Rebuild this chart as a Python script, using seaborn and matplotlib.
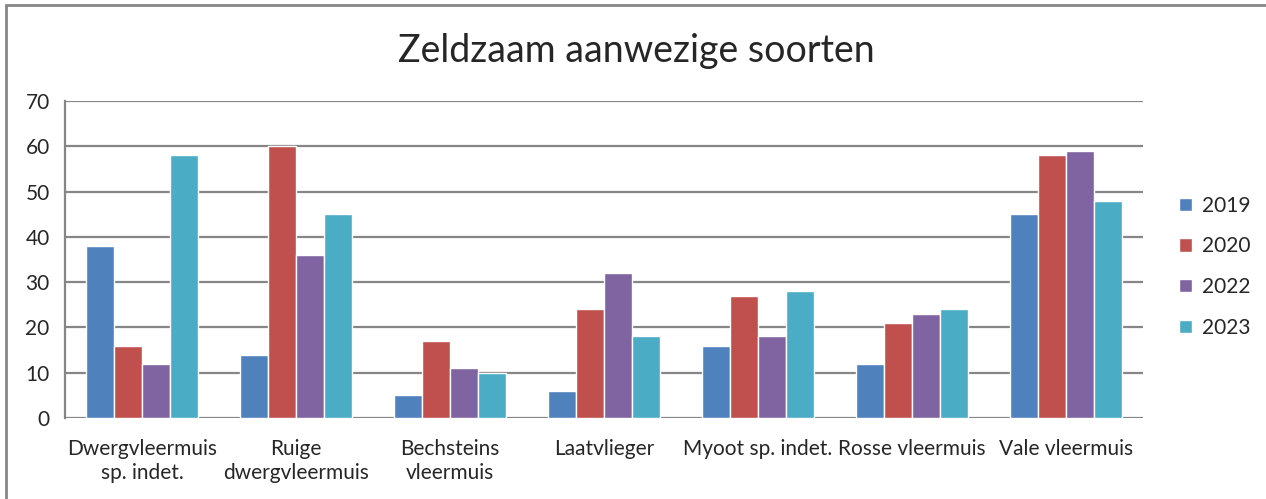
import pandas as pd
import matplotlib.pyplot as plt
import seaborn as sns
from matplotlib.patches import Rectangle

# Data
soorten = ["Dwergvleermuis\nsp. indet.", "Ruige\ndwergvleermuis", "Bechsteins\nvleermuis",
           "Laatvlieger", "Myoot sp. indet.", "Rosse vleermuis", "Vale vleermuis"]
jaren = ["2019", "2020", "2022", "2023"]
v2019 = [38, 14, 5, 6, 16, 12, 45]
v2020 = [16, 60, 17, 24, 27, 21, 58]
v2022 = [12, 36, 11, 32, 18, 23, 59]
v2023 = [58, 45, 10, 18, 28, 24, 48]
kleuren = ["#4F81BD", "#C0504D", "#8064A2", "#4BACC6"]

rows = []
for jaar, vals in zip(jaren, [v2019, v2020, v2022, v2023]):
    for s, v in zip(soorten, vals):
        rows.append({"soort": s, "jaar": jaar, "aantal": v})
df = pd.DataFrame(rows)

sns.set_style("white")
plt.rcParams["font.family"] = ["Lato", "DejaVu Sans"]

fig = plt.figure(figsize=(12.66, 4.99), dpi=100)
ax = fig.add_axes([0.0513, 0.1623, 0.8516, 0.6353])

sns.barplot(data=df, x="soort", y="aantal", hue="jaar", palette=kleuren,
            width=0.73, saturation=1, ax=ax, legend=True)

ax.set_ylim(0, 70)
ax.set_yticks(range(0, 71, 10))
ax.yaxis.grid(True, color="#868686", linewidth=1.6)
ax.set_axisbelow(True)
for side in ["top", "right", "bottom"]:
    ax.spines[side].set_visible(False)
ax.spines["left"].set_color("#868686")
ax.spines["left"].set_linewidth(1.6)
ax.tick_params(axis="y", length=5, color="#868686", width=1.6, labelsize=15, pad=6)
ax.tick_params(axis="x", length=0, labelsize=15, pad=15)
ax.set_xlabel("")
ax.set_ylabel("")
ax.set_xlim(-0.5, len(soorten) - 0.5)
for lbl in ax.get_xticklabels():
    lbl.set_linespacing(1.25)

ax.legend(loc="center left", bbox_to_anchor=(1.016, 0.477), frameon=False,
          fontsize=15, handlelength=0.6, handleheight=0.6, labelspacing=1.0,
          handletextpad=0.5)

fig.text(0.503, 0.898, "Zeldzaam aanwezige soorten", ha="center", va="center", fontsize=27)

# outer chart frame
fig.patches.append(Rectangle((6 / 1266, -0.01), 1.1, 1.0 - 5 / 499 + 0.01,
                             transform=fig.transFigure, fill=False,
                             edgecolor="#868686", linewidth=2))

fig.savefig("out.png", dpi=100)
